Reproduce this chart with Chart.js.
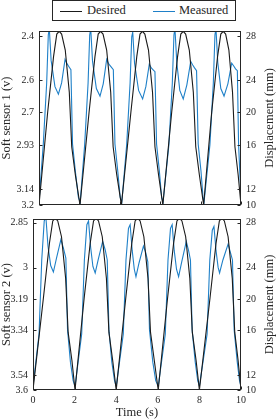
<!DOCTYPE html>
<html>
<head>
<meta charset="utf-8">
<script src="https://cdn.jsdelivr.net/npm/chart.js@4/dist/chart.umd.min.js"></script>
<style>
  body { margin: 0; background: #fff; }
  #wrap { position: relative; width: 278px; height: 420px; overflow: hidden; }
  canvas { position: absolute; left: 0; }
  #legend { position: absolute; left: 52px; top: 0; width: 182px; height: 19px; border: 1px solid #262626; background: #fff;
            font: 12.5px 'Liberation Serif', serif; color: #262626; }
  #legend .ln { position: absolute; top: 10px; width: 22px; height: 0; border-top: 1.2px solid; }
  #legend .tx { position: absolute; top: 2px; line-height: 15px; }
</style>
</head>
<body>
<div id="wrap">
  <canvas id="top" width="278" height="216" style="top:0"></canvas>
  <canvas id="bot" width="278" height="212" style="top:208px"></canvas>
  <div id="legend">
    <span class="ln" style="left:7px;border-color:#1a1a1a"></span><span class="tx" style="left:34px">Desired</span>
    <span class="ln" style="left:100px;border-color:#1f80c8"></span><span class="tx" style="left:126px">Measured</span>
  </div>
</div>
<script>
// ---- sensor 1 (top) ----
var tDes1 = [0,0.43,0.72,0.88,1.0,1.12,1.3,1.5,1.62,1.8,
  2.03,2.48,2.77,2.93,3.05,3.17,3.35,3.55,3.67,3.85,
  4.08,4.55,4.84,5.0,5.12,5.24,5.42,5.62,5.74,5.92,
  6.13,6.57,6.86,7.02,7.14,7.26,7.44,7.64,7.76,7.94,
  8.15,8.55,8.84,9.0,9.12,9.24,9.4,9.58,9.7,9.86,10.0];
var des1 = [10,19.9,25.8,28.2,28.5,28.2,26.5,22.0,16.2,13.2,
  10,19.9,25.8,28.2,28.5,28.2,26.5,22.0,16.2,13.2,
  10,19.9,25.8,28.2,28.5,28.2,26.5,22.0,16.2,13.2,
  10,19.9,25.8,28.2,28.5,28.2,26.5,22.0,16.2,13.2,
  10,19.9,25.8,28.2,28.5,28.2,26.5,22.0,16.2,13.2,10];
var tMeas1 = [0,0.21,0.38,0.46,0.51,0.6,0.79,0.96,1.12,1.29,1.4,1.49,1.58,1.66,1.8,1.95,
  2.04,2.26,2.43,2.51,2.56,2.65,2.84,3.02,3.18,3.35,3.46,3.57,3.68,3.76,3.9,4.02,
  4.1,4.34,4.51,4.59,4.64,4.73,4.93,5.13,5.29,5.46,5.56,5.65,5.74,5.82,5.96,6.07,
  6.14,6.43,6.6,6.68,6.73,6.82,6.97,7.14,7.32,7.51,7.61,7.7,7.8,7.88,8.02,8.12,
  8.17,8.46,8.63,8.71,8.76,8.85,9.0,9.16,9.35,9.54,9.64,9.73,9.82,9.88,9.95,10.0];
var meas1 = [10.3,16.4,23.0,28.1,28.8,25.4,22.6,21.8,23.0,25.5,25.0,24.7,24.4,16.5,13.6,10.8,
  10.3,16.4,23.0,28.1,28.8,25.3,22.4,21.6,22.9,25.5,25.0,24.7,24.4,16.5,13.6,10.8,
  10.3,16.4,23.0,27.9,28.4,25.1,22.2,21.3,22.6,25.0,24.6,24.4,24.2,16.5,13.6,10.8,
  10.3,16.4,23.0,28.1,28.8,25.2,22.2,21.3,22.8,25.3,24.9,24.6,24.3,16.5,13.6,10.8,
  10.3,16.4,23.0,28.1,28.8,25.2,22.4,21.6,22.9,25.1,24.8,24.5,24.3,16.5,13.0,11.0];

// ---- sensor 2 (bottom) ----
var tDes2 = [0,0.5,0.79,0.95,1.07,1.19,1.37,1.57,1.69,1.87,
  2.02,2.46,2.75,2.91,3.03,3.15,3.33,3.53,3.65,3.83,
  4.0,4.46,4.75,4.91,5.03,5.15,5.33,5.53,5.65,5.83,
  6.02,6.47,6.76,6.92,7.04,7.16,7.34,7.54,7.66,7.84,
  8.0,8.51,8.8,8.96,9.08,9.2,9.38,9.58,9.7,9.86,10.0];
var des2 = des1.slice();
var tMeas2 = [0,0.29,0.42,0.54,0.62,0.72,0.85,0.98,1.13,1.34,1.46,1.58,1.66,1.8,1.93,
  2.02,2.34,2.47,2.59,2.67,2.77,2.88,2.99,3.14,3.35,3.47,3.57,3.65,3.79,3.92,
  4.0,4.34,4.47,4.59,4.67,4.77,4.87,4.95,5.1,5.31,5.42,5.52,5.6,5.76,5.9,
  6.02,6.36,6.49,6.61,6.69,6.79,6.9,7.0,7.15,7.37,7.48,7.57,7.65,7.8,7.92,
  8.0,8.37,8.5,8.62,8.7,8.8,8.9,8.97,9.13,9.38,9.48,9.59,9.67,9.82,9.93,10.0];
var meas2 = [10.4,16,24,28.2,28.6,25.5,23.4,22.7,24.2,26.2,25.3,24.2,16.5,13.0,11.0,
  10.4,16,24,27.8,28.2,25.4,23.3,22.6,24.1,26.0,25.1,24.0,16.5,13.0,11.0,
  10.4,16,24,27.4,27.8,25.0,23.0,22.2,23.7,25.5,24.8,23.8,16.5,13.0,11.0,
  10.4,16,24,27.4,27.8,25.0,23.0,22.2,23.8,26.0,25.0,24.0,16.5,13.0,11.0,
  10.4,16,24,27.2,27.6,25.0,23.2,22.6,24.0,25.7,24.9,24.0,16.5,13.0,11.0,10.4];

// tick positions (in displacement units) and their labels
var tickPos1 = [10, 11.71, 16.39, 19.9, 23.27, 28.0];
var sensor1Labels = ['3.2', '3.14', '2.93', '2.7', '2.6', '2.4'];
var tickPos2 = [10, 11.6, 16.41, 19.75, 23.17, 28.0];
var sensor2Labels = ['3.6', '3.54', '3.34', '3.19', '3', '2.85'];
var dispLabels = ['10', '12', '16', '20', '24', '28'];
var timeTicks = [0, 2, 4, 6, 8, 10];

var serif = "'Liberation Serif', 'Times New Roman', serif";
var txt = '#262626';

function pts(t, v) { return t.map(function (x, i) { return {x: x, y: v[i]}; }); }

var framePlugin = {
  id: 'frame',
  afterDraw: function (chart) {
    var a = chart.chartArea, c = chart.ctx;
    var L = Math.round(a.left) + 0.5, R = Math.round(a.right) - 0.5;
    var T = Math.round(a.top) + 0.5, B = Math.round(a.bottom) - 0.5;
    c.save();
    c.strokeStyle = txt; c.lineWidth = 1;
    c.strokeRect(L, T, R - L, B - T);
    // inward tick marks
    var y = chart.scales.y, x = chart.scales.x;
    c.beginPath();
    y.ticks.forEach(function (tk) {
      var p = Math.round(y.getPixelForValue(tk.value)) + 0.5;
      c.moveTo(L, p); c.lineTo(L + 3, p);
      c.moveTo(R, p); c.lineTo(R - 3, p);
    });
    timeTicks.forEach(function (v) {
      var p = Math.round(x.getPixelForValue(v)) + 0.5;
      c.moveTo(p, B); c.lineTo(p, B - 3);
    });
    c.stroke();
    // right axis title, reading bottom to top
    c.translate(270, (a.top + a.bottom) / 2);
    c.rotate(-Math.PI / 2);
    c.font = '12.5px ' + serif;
    c.fillStyle = txt; c.textAlign = 'center'; c.textBaseline = 'middle';
    c.fillText(chart.options.plugins.frame.rightTitle, 0, 0);
    c.restore();
  }
};

function makeChart(id, o) {
  return new Chart(document.getElementById(id), {
    type: 'line',
    data: {
      datasets: [{
        label: 'Desired', data: pts(o.tDes, o.des),
        borderColor: '#1a1a1a', borderWidth: 1.1, pointRadius: 0, tension: 0,
      }, {
        label: 'Measured', data: pts(o.tMeas, o.meas),
        borderColor: '#1f80c8', borderWidth: 1.1, pointRadius: 0, tension: 0,
      }],
    },
    options: {
      responsive: false, animation: false,
      layout: { padding: { top: o.padTop, bottom: o.padBottom, left: 0, right: 0 } },
      plugins: { legend: { display: false }, tooltip: { enabled: false },
                 frame: { rightTitle: 'Displacement (mm)' } },
      scales: {
        x: {
          type: 'linear', min: 0, max: 10, display: o.showX,
          afterBuildTicks: function (s) { s.ticks = timeTicks.map(function (v) { return {value: v}; }); },
          afterFit: function (s) { s.height = o.showX ? 30 : 0; },
          grid: { display: false, drawTicks: false }, border: { display: false },
          ticks: { color: txt, padding: 4, font: { family: serif, size: 10 } },
          title: { display: true, text: 'Time (s)', color: txt, padding: 0,
                   font: { family: serif, size: 12.5, lineHeight: 1.2 } },
        },
        y: {
          position: 'left', min: 10, max: o.yMax,
          afterBuildTicks: function (s) { s.ticks = o.tickPos.map(function (v) { return {value: v}; }); },
          afterFit: function (s) { s.width = o.leftW; },
          grid: { display: false, drawTicks: false }, border: { display: false },
          ticks: { color: txt, padding: 5, autoSkip: false, font: { family: serif, size: 10 },
                   callback: function (v, i) { return o.leftLabels[i]; } },
          title: { display: true, text: o.leftTitle, color: txt, padding: 0,
                   font: { family: serif, size: 12.5, lineHeight: 1 } },
        },
        y2: {
          position: 'right', min: 10, max: o.yMax,
          afterBuildTicks: function (s) { s.ticks = o.tickPos.map(function (v) { return {value: v}; }); },
          afterFit: function (s) { s.width = 37; },
          grid: { display: false, drawTicks: false }, border: { display: false },
          ticks: { color: txt, padding: 5, autoSkip: false, font: { family: serif, size: 10 },
                   callback: function (v, i) { return dispLabels[i]; } },
        },
      },
    },
    plugins: [framePlugin],
  });
}

makeChart('top', {
  tDes: tDes1, des: des1, tMeas: tMeas1, meas: meas1,
  tickPos: tickPos1, leftLabels: sensor1Labels, leftTitle: 'Soft sensor 1 (v)',
  yMax: 28.53, leftW: 39, padTop: 31, padBottom: 9, showX: false,
});
makeChart('bot', {
  tDes: tDes2, des: des2, tMeas: tMeas2, meas: meas2,
  tickPos: tickPos2, leftLabels: sensor2Labels, leftTitle: 'Soft sensor 2 (v)',
  yMax: 28.41, leftW: 33, padTop: 10, padBottom: 0, showX: true,
});
</script>
</body>
</html>
